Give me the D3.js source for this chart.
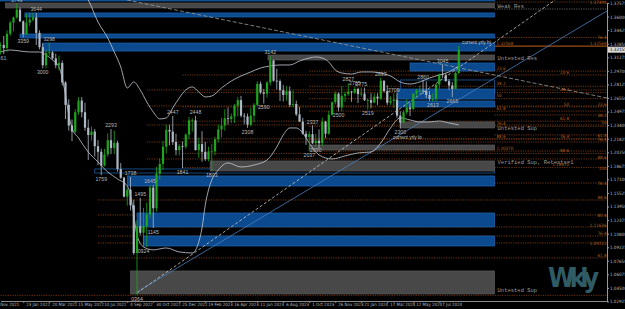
<!DOCTYPE html>
<html>
<head>
<meta charset="utf-8">
<script src="https://cdn.jsdelivr.net/npm/d3@7"></script>
<style>
	body { margin: 0; background: #000; }
	svg { display: block; }
</style>
</head>
<body>
<div id="chart"></div>
<script>
// Weekly bars, index 0 = week of 6 Dec 2021
const weekOpen = [
	1.3265,1.3270,1.3235,1.3400,1.3530,1.3590,1.3680,1.3545,1.3395,1.3530,
	1.3565,1.3590,1.3410,1.3245,1.3035,1.3180,1.3185,1.3115,1.3035,1.3060,
	1.2835,1.2575,1.2335,1.2265,1.2490,1.2625,1.2490,1.2310,1.2225,1.2265,
	1.2095,1.2030,1.1870,1.2000,1.2165,1.2075,1.2135,1.1830,1.1730,1.1510,
	1.1590,1.1410,1.0855,1.1165,1.1090,1.1170,1.1300,1.1615,1.1375,1.1775,
	1.1890,1.2090,1.2285,1.2265,1.2145,1.2050,1.2095,1.2090,1.2230,1.2395,
	1.2395,1.2050,1.2120,1.2030,1.1945,1.2035,1.2035,1.2175,1.2290,1.2335,
	1.2420,1.2410,1.2440,1.2565,1.2630,1.2450,1.2440,1.2345,1.2450,1.2575,
	1.2820,1.2720,1.2705,1.2835,1.3090,1.2855,1.2850,1.2745,1.2690,1.2735,
	1.2575,1.2585,1.2465,1.2380,1.2240,1.2200,1.2235,1.2130,1.2160,1.2130,
	1.2380,1.2240,1.2460,1.2605,1.2705,1.2545,1.2680,1.2700,1.2730,1.2720,
	1.2760,1.2700,1.2705,1.2630,1.2630,1.2600,1.2670,1.2650,1.2855,1.2735,
	1.2600,1.2620,1.2635,1.2450,1.2370,1.2490,1.2545,1.2525,1.2705,1.2740,
	1.2740,1.2735,1.2690,1.2645,1.2645,1.2810,1.2930,1.2920,1.2850,1.2800,
	1.2760,1.2945
];
const weekHigh = [
	1.3300,1.3375,1.3440,1.3550,1.3600,1.3749,1.3705,1.3555,1.3628,1.3645,
	1.3645,1.3644,1.3440,1.3290,1.3210,1.3298,1.3200,1.3170,1.3148,1.3090,
	1.2850,1.2640,1.2405,1.2525,1.2665,1.2665,1.2600,1.2405,1.2325,1.2295,
	1.2165,1.2065,1.2065,1.2245,1.2293,1.2275,1.2160,1.1900,1.1740,1.1640,
	1.1738,1.1475,1.1235,1.1495,1.1380,1.1440,1.1645,1.1645,1.1855,1.1950,
	1.2155,1.2345,1.2345,1.2447,1.2240,1.2120,1.2150,1.2245,1.2435,1.2420,
	1.2448,1.2195,1.2270,1.2145,1.2090,1.2125,1.2205,1.2345,1.2425,1.2525,
	1.2546,1.2475,1.2585,1.2668,1.2680,1.2480,1.2475,1.2545,1.2595,1.2850,
	1.2848,1.2760,1.2850,1.3142,1.3100,1.2995,1.2870,1.2805,1.2795,1.2790,
	1.2745,1.2625,1.2550,1.2425,1.2275,1.2270,1.2337,1.2240,1.2290,1.2428,
	1.2390,1.2505,1.2615,1.2733,1.2720,1.2793,1.2730,1.2827,1.2735,1.2785,
	1.2775,1.2775,1.2775,1.2645,1.2710,1.2710,1.2710,1.2893,1.2860,1.2803,
	1.2675,1.2709,1.2710,1.2500,1.2510,1.2640,1.2595,1.2710,1.2760,1.2800,
	1.2860,1.2850,1.2735,1.2710,1.2820,1.2940,1.3045,1.2945,1.2875,1.2840,
	1.2960,1.3257
];
const weekLow = [
	1.3161,1.3165,1.3190,1.3375,1.3430,1.3575,1.3535,1.3358,1.3390,1.3490,
	1.3545,1.3270,1.3220,1.3000,1.3000,1.3140,1.3100,1.3000,1.2975,1.2800,
	1.2410,1.2275,1.2155,1.2245,1.2460,1.2430,1.2275,1.1935,1.2160,1.1975,
	1.1875,1.1759,1.1860,1.1975,1.2005,1.2005,1.1800,1.1715,1.1500,1.1405,
	1.1350,1.0835,1.0364,1.1060,1.0924,1.0925,1.1258,1.1145,1.1335,1.1710,
	1.1820,1.2010,1.2105,1.2110,1.1990,1.1990,1.1841,1.2065,1.2175,1.2265,
	1.2045,1.1960,1.1915,1.1925,1.1920,1.1803,1.1990,1.2140,1.2200,1.2275,
	1.2345,1.2365,1.2365,1.2440,1.2430,1.2350,1.2308,1.2325,1.2370,1.2560,
	1.2700,1.2590,1.2660,1.2800,1.2845,1.2755,1.2620,1.2615,1.2625,1.2550,
	1.2546,1.2445,1.2380,1.2230,1.2110,1.2037,1.2120,1.2090,1.2070,1.2095,
	1.2187,1.2230,1.2450,1.2580,1.2500,1.2500,1.2610,1.2680,1.2610,1.2700,
	1.2595,1.2670,1.2620,1.2519,1.2535,1.2595,1.2575,1.2630,1.2720,1.2575,
	1.2575,1.2540,1.2425,1.2300,1.2365,1.2465,1.2445,1.2520,1.2670,1.2710,
	1.2700,1.2655,1.2620,1.2613,1.2615,1.2760,1.2890,1.2845,1.2750,1.2665,
	1.2760,1.2935
];
const weekClose = [
	1.3270,1.3235,1.3400,1.3530,1.3590,1.3680,1.3545,1.3395,1.3530,1.3565,
	1.3590,1.3410,1.3245,1.3035,1.3180,1.3185,1.3115,1.3035,1.3060,1.2835,
	1.2575,1.2335,1.2265,1.2490,1.2625,1.2490,1.2310,1.2225,1.2265,1.2095,
	1.2030,1.1870,1.2000,1.2165,1.2075,1.2135,1.1830,1.1730,1.1510,1.1590,
	1.1410,1.0855,1.1165,1.1090,1.1170,1.1300,1.1615,1.1375,1.1775,1.1890,
	1.2090,1.2285,1.2265,1.2145,1.2050,1.2095,1.2090,1.2230,1.2395,1.2395,
	1.2050,1.2120,1.2030,1.1945,1.2035,1.2035,1.2175,1.2290,1.2335,1.2420,
	1.2410,1.2440,1.2565,1.2630,1.2450,1.2440,1.2345,1.2450,1.2575,1.2820,
	1.2720,1.2705,1.2835,1.3090,1.2855,1.2850,1.2745,1.2690,1.2735,1.2575,
	1.2585,1.2465,1.2380,1.2240,1.2200,1.2235,1.2130,1.2160,1.2130,1.2380,
	1.2240,1.2460,1.2605,1.2705,1.2545,1.2680,1.2700,1.2730,1.2720,1.2760,
	1.2700,1.2705,1.2630,1.2630,1.2600,1.2670,1.2650,1.2855,1.2735,1.2600,
	1.2620,1.2635,1.2450,1.2370,1.2490,1.2545,1.2525,1.2705,1.2740,1.2740,
	1.2735,1.2690,1.2645,1.2645,1.2810,1.2930,1.2920,1.2850,1.2800,1.2760,
	1.2945,1.3215
];

// swing labels: bar index, high/low, text
const swingIdx = [0,5,7,11,13,15,31,34,40,43,44,46,42,47,53,56,60,65,76,81,83,95,96,97,104,107,109,111,113,117,121,123,130,133,136,139];
const swingSide = ['lo','hi','lo','hi','lo','hi','lo','hi','hi','hi','lo','hi','lo','lo','hi','lo','hi','lo','lo','lo','hi','lo','hi','lo','lo','hi','hi','hi','lo','hi','hi','lo','hi','lo','hi','lo'];
const swingText = ['3161','3749','3359','3644','3000','3298','1759','2293','1738','1495','0924','1645','0364','1145','2447','1841','2448','1803','2308','2590','3142','2037','2337','2090','2500','2827','2785','2775','2519','2893','2709','2300','2860','2613','3045','2665'];

// Bollinger envelope, read at sample bars
const bandUpIdx = [20,24,27,30,33,35,37,39,41,43,45,47,49,51,53,55,57,59,61,63,65,68,71,74,77,80,83,86,89,92,95,97,99,101,103,105,108,111,114,117,120,123,126,129,132,135,138,141];
const bandUp = [1.4141,1.3932,1.3792,1.3537,1.3351,1.3189,1.3015,1.2771,1.2841,1.2748,1.2609,1.2493,1.2412,1.2423,1.2539,1.2655,1.2748,1.2783,1.2725,1.2667,1.2678,1.2771,1.2852,1.2910,1.2957,1.3003,1.3026,1.3038,1.3038,1.3084,1.3119,1.3131,1.3119,1.3073,1.2980,1.2945,1.2933,1.2957,1.2957,1.2945,1.2910,1.2841,1.2817,1.2841,1.2887,1.2922,1.2957,1.3026];
const bandLoIdx = [0,3,6,9,12,14,16,18,19,20,21,22,24,27,30,33,36,39,40,41,42,44,47,51,55,59,61,62,63,64,65,67,70,74,78,82,85,87,89,91,93,95,98,102,106,110,114,117,120,123,126,129,132,135,138,141];
const bandLo = [1.3189,1.3212,1.3200,1.3189,1.3189,1.3154,1.3096,1.3015,1.2887,1.2690,1.2458,1.2307,1.2191,1.2028,1.1912,1.1796,1.1715,1.1634,1.1529,1.1297,1.1065,1.0926,1.0892,1.0914,1.0868,1.0856,1.0984,1.1147,1.1414,1.1588,1.1703,1.1819,1.1901,1.1854,1.1877,1.1935,1.2086,1.2226,1.2307,1.2307,1.2249,1.2133,1.1993,1.1947,1.1982,1.2017,1.2028,1.2133,1.2307,1.2423,1.2400,1.2377,1.2377,1.2388,1.2365,1.2342];

// supply / demand zones
const zoneTop =    [1.3816,1.37575,1.3642,1.3398,1.3293,1.3154,1.3061,1.2864,1.2759,1.2620,1.2377,1.2109,1.1831,1.1924,1.1750,1.1320,1.1053,1.0647];
const zoneBottom = [1.3781,1.3700,1.3595,1.3351,1.3200,1.3096,1.2968,1.2713,1.2643,1.2551,1.2307,1.2051,1.1784,1.1808,1.1633,1.1158,1.0937,1.0380];
const zoneStart =  [0,1.5,7.5,6,13,82.3,126,123,122,122,123,95,29,64.5,39,42,44,40];
const zoneKind = ['blue','gray','blue','blue','blue','gray','blue','outline','blue','blue','gray','gray','outline','gray','blue','blue','blue','gray'];
const zoneEnd = 152;
const zoneLabelText = ['Weak Res','Untested Res','Untested Sup','Verified Sup, Retests=1','Untested Sup'];
const zoneLabelPrice = [1.3723,1.3119,1.2307,1.1912,1.0427];

// fibonacci levels: price and first bar
const fibPrice = [1.2967,1.2791,1.2647,1.2503,1.2326,1.2177,1.2039,
	1.2922,1.2718,1.2552,1.2386,1.2181,1.2010,1.1847,
	1.2748,1.2562,1.2342,1.2144,1.1947,
	1.1471,1.1297,1.1158,1.1053,1.0972,1.0798,
	1.0364,1.3769,1.3357,1.2458,1.2226,1.1668];
const fibStart = [95,95,95,95,95,95,95,
	56,56,56,56,56,56,56,
	45,45,45,45,45,
	30,30,30,30,30,30,
	0,152,152,152,152,152];
const fibTextA = ['1.32568','23.6','38.2','50','61.8','76.4','88.6','1.20370'];
const fibPriceA = [1.3257,1.2967,1.2791,1.2647,1.2503,1.2326,1.2177,1.2039];
const fibTextB = ['23.6','38.2','50','61.8','76.4','88.6','1.18470'];
const fibPriceB = [1.2922,1.2718,1.2552,1.2386,1.2181,1.2010,1.1847];
const fibTextC = ['1.37490','76.4','1.32568','23.6','38.2','50','61.8','76.4','88.6','100','76.4','88.6','85.4','1.11636','76.4','1.09722','61.8'];
const fibPriceC = [1.3769,1.3363,1.3288,1.2585,1.2458,1.2377,1.2226,1.2179,1.1970,1.1843,1.1668,1.1506,1.1297,1.1181,1.1088,1.0972,1.0833];

// trend lines: [start bar, start price, end bar, end price]
const trendBlue = [42, 1.0403, 186.6, 1.3665];
const trendUp = [42, 1.0392, 170.6, 1.3792];
const trendDown = [38.9, 1.3792, 186.6, 1.2655];

const priceTicks = [1.37575,1.36000,1.34425,1.32850,1.31275,1.29700,1.28125,1.26550,1.24975,1.23400,1.21825,1.20250,1.18675,1.17100,1.15525,1.13950,1.12375,1.10800,1.09225,1.07650,1.06075,1.04500,1.02925];
const dateTicks = [-1,7,15,23,31,39,47,55,63,71,79,87,95,103,111,119,127,135];
const dateLabels = ['Nov 2021','23 Jan 2022','20 Mar 2022','15 May 2022','10 Jul 2022','4 Sep 2022','30 Oct 2022','25 Dec 2022','19 Feb 2023','16 Apr 2023','11 Jun 2023','6 Aug 2023','1 Oct 2023','26 Nov 2023','21 Jan 2024','17 Mar 2024','12 May 2024','7 Jul 2024'];
const lastPrice = 1.32155;

const width = 625;
const height = 309;
const plotW = 607;
const plotH = 301;
const narrow = '"Liberation Sans Narrow", "DejaVu Sans Condensed", sans-serif';
const plain = '"Liberation Sans", sans-serif';

const x = d3.scaleLinear().domain([0, 186.6]).range([0.5, plotW]);
const y = d3.scaleLinear().domain([1.37575, 1.02925]).range([3, 301.5]);

const svg = d3.select('#chart').append('svg')
	.attr('width', width)
	.attr('height', height)
	.style('background', '#000');

svg.append('defs').append('clipPath').attr('id', 'plot')
	.append('rect').attr('width', plotW).attr('height', plotH);

const plot = svg.append('g').attr('clip-path', 'url(#plot)');

// watermark
plot.append('text')
	.attr('x', 548).attr('y', 287)
	.attr('font-family', narrow)
	.attr('font-weight', 'bold')
	.attr('font-size', 27)
	.attr('textLength', 51)
	.attr('fill', '#2f5b64')
	.text('Wkly');

// fib levels
plot.selectAll('line.fib')
	.data(fibPrice)
	.join('line')
	.attr('class', 'fib')
	.attr('x1', (d, i) => x(fibStart[i]))
	.attr('x2', plotW)
	.attr('y1', (d) => y(d))
	.attr('y2', (d) => y(d))
	.attr('stroke', '#8a4516')
	.attr('stroke-width', 0.8)
	.attr('stroke-dasharray', '1.2,1.2');

plot.append('line')
	.attr('x1', x(zoneEnd)).attr('x2', plotW)
	.attr('y1', y(1.3688)).attr('y2', y(1.3688))
	.attr('stroke', '#777').attr('stroke-width', 0.8).attr('stroke-dasharray', '1.2,1.2');

plot.append('line')
	.attr('x1', x(13)).attr('x2', plotW)
	.attr('y1', y(1.3257)).attr('y2', y(1.3257))
	.attr('stroke', '#c0601e').attr('stroke-width', 1);

// zones
plot.selectAll('rect.zone')
	.data(zoneTop)
	.join('rect')
	.attr('class', 'zone')
	.attr('x', (d, i) => x(zoneStart[i]))
	.attr('width', (d, i) => x(zoneEnd) - x(zoneStart[i]))
	.attr('y', (d) => y(d))
	.attr('height', (d, i) => y(zoneBottom[i]) - y(d))
	.attr('fill', (d, i) => {
		if (zoneKind[i] === 'blue') return '#0b4a8e';
		if (zoneKind[i] === 'gray') return '#484848';
		return 'none';
	})
	.attr('stroke', (d, i) => (zoneKind[i] === 'gray' ? '#5a5a5a' : '#1f66b4'))
	.attr('stroke-width', 0.7);

// trend lines
const trendLines = [
	{ v: trendBlue, color: '#4d7fbe', dash: null },
	{ v: trendUp, color: '#c8c8c8', dash: '3,2' },
	{ v: trendDown, color: '#9c9c9c', dash: '4,2' },
];
plot.selectAll('line.trend')
	.data(trendLines)
	.join('line')
	.attr('x1', (d) => x(d.v[0]))
	.attr('y1', (d) => y(d.v[1]))
	.attr('x2', (d) => x(d.v[2]))
	.attr('y2', (d) => y(d.v[3]))
	.attr('stroke', (d) => d.color)
	.attr('stroke-width', 0.8)
	.attr('stroke-dasharray', (d) => d.dash);

// bollinger envelope
const bandLine = d3.line()
	.x((d) => x(d[0]))
	.y((d) => y(d[1]))
	.curve(d3.curveMonotoneX);
plot.append('path')
	.attr('d', bandLine(bandUpIdx.map((d, i) => [d, bandUp[i]])))
	.attr('fill', 'none').attr('stroke', '#c4ccd6').attr('stroke-width', 0.8);
plot.append('path')
	.attr('d', bandLine(bandLoIdx.map((d, i) => [d, bandLo[i]])))
	.attr('fill', 'none').attr('stroke', '#c4ccd6').attr('stroke-width', 0.8);

// candles
const bars = weekClose.map((c, i) => ({
	i, o: weekOpen[i], h: weekHigh[i], l: weekLow[i], c,
}));
const colour = (d) => (d.c >= d.o ? '#1ea61e' : '#aeb9c6');

plot.selectAll('line.wick')
	.data(bars)
	.join('line')
	.attr('x1', (d) => x(d.i))
	.attr('x2', (d) => x(d.i))
	.attr('y1', (d) => y(d.h))
	.attr('y2', (d) => y(d.l))
	.attr('stroke', colour)
	.attr('stroke-width', 0.8);

plot.selectAll('rect.body')
	.data(bars)
	.join('rect')
	.attr('x', (d) => x(d.i) - 1.1)
	.attr('width', 2.2)
	.attr('y', (d) => y(Math.max(d.o, d.c)))
	.attr('height', (d) => Math.max(0.8, Math.abs(y(d.o) - y(d.c))))
	.attr('fill', colour);

// swing labels
plot.selectAll('text.swing')
	.data(swingIdx)
	.join('text')
	.attr('x', (d) => x(d))
	.attr('y', (d, i) => (swingSide[i] === 'hi' ? y(weekHigh[d]) - 1.8 : y(weekLow[d]) + 5.8))
	.attr('text-anchor', 'middle')
	.attr('font-family', plain)
	.attr('font-size', 5.2)
	.attr('fill', '#b8b8b8')
	.text((d, i) => swingText[i]);

plot.append('text')
	.attr('x', 462).attr('y', y(1.3257) - 2)
	.attr('font-family', plain)
	.attr('font-size', 4.8)
	.attr('fill', '#c8c8c8')
	.text('current yrly hi');
plot.append('text')
	.attr('x', 393).attr('y', y(1.2300) + 10)
	.attr('font-family', plain)
	.attr('font-size', 4.8)
	.attr('fill', '#c8c8c8')
	.text('current yrly lo');

// zone names
plot.selectAll('text.zone')
	.data(zoneLabelText)
	.join('text')
	.attr('x', x(zoneEnd) + 3)
	.attr('y', (d, i) => y(zoneLabelPrice[i]))
	.attr('dy', '0.35em')
	.attr('font-family', '"Liberation Mono", monospace')
	.attr('font-size', 5.5)
	.attr('fill', '#9a9a9a')
	.text((d) => d);

// fib labels
plot.selectAll('text.fa')
	.data(fibTextA)
	.join('text')
	.attr('x', x(zoneEnd) + 2)
	.attr('y', (d, i) => y(fibPriceA[i]) - 1.2)
	.attr('font-family', narrow).attr('font-size', 4.5)
	.attr('fill', '#b8601e')
	.text((d) => d);
plot.selectAll('text.fb')
	.data(fibTextB)
	.join('text')
	.attr('x', 569)
	.attr('y', (d, i) => y(fibPriceB[i]) - 1.2)
	.attr('text-anchor', 'end')
	.attr('font-family', narrow).attr('font-size', 4.5)
	.attr('fill', '#b8601e')
	.text((d) => d);
plot.selectAll('text.fc')
	.data(fibTextC)
	.join('text')
	.attr('x', plotW - 0.5)
	.attr('y', (d, i) => y(fibPriceC[i]))
	.attr('dy', '0.35em')
	.attr('text-anchor', 'end')
	.attr('font-family', narrow).attr('font-size', 4.5)
	.attr('fill', '#b8601e')
	.text((d) => d);

// price axis
const yAxis = d3.axisRight(y)
	.tickValues(priceTicks)
	.tickFormat(d3.format('.5f'))
	.tickSize(2)
	.tickSizeOuter(0);
const gy = svg.append('g')
	.attr('transform', `translate(${plotW},0)`)
	.call(yAxis);
gy.select('.domain').attr('stroke', '#9a9a9a');
gy.selectAll('line').attr('stroke', '#9a9a9a');
gy.selectAll('text')
	.attr('x', 3)
	.attr('font-family', narrow)
	.attr('font-size', 4.5)
	.attr('fill', '#bdbdbd');

// last price tag
svg.append('rect')
	.attr('x', plotW + 1).attr('y', y(lastPrice) - 3)
	.attr('width', 17).attr('height', 6)
	.attr('fill', '#d9d9d9');
svg.append('text')
	.attr('x', plotW + 3).attr('y', y(lastPrice))
	.attr('dy', '0.35em')
	.attr('font-family', narrow)
	.attr('font-size', 4.5)
	.attr('fill', '#000')
	.text(d3.format('.5f')(lastPrice));

// time axis
const xAxis = d3.axisBottom(x)
	.tickValues(dateTicks)
	.tickFormat((d, i) => dateLabels[i])
	.tickSize(2)
	.tickSizeOuter(0);
const gx = svg.append('g')
	.attr('transform', `translate(0,${plotH})`)
	.call(xAxis);
gx.select('.domain').attr('stroke', '#8a8a8a');
gx.selectAll('line').attr('stroke', '#8a8a8a');
gx.selectAll('text')
	.attr('text-anchor', 'start')
	.attr('dx', 2.5)
	.attr('y', 2)
	.attr('font-family', narrow)
	.attr('font-size', 4.4)
	.attr('fill', '#bdbdbd');
</script>
</body>
</html>
